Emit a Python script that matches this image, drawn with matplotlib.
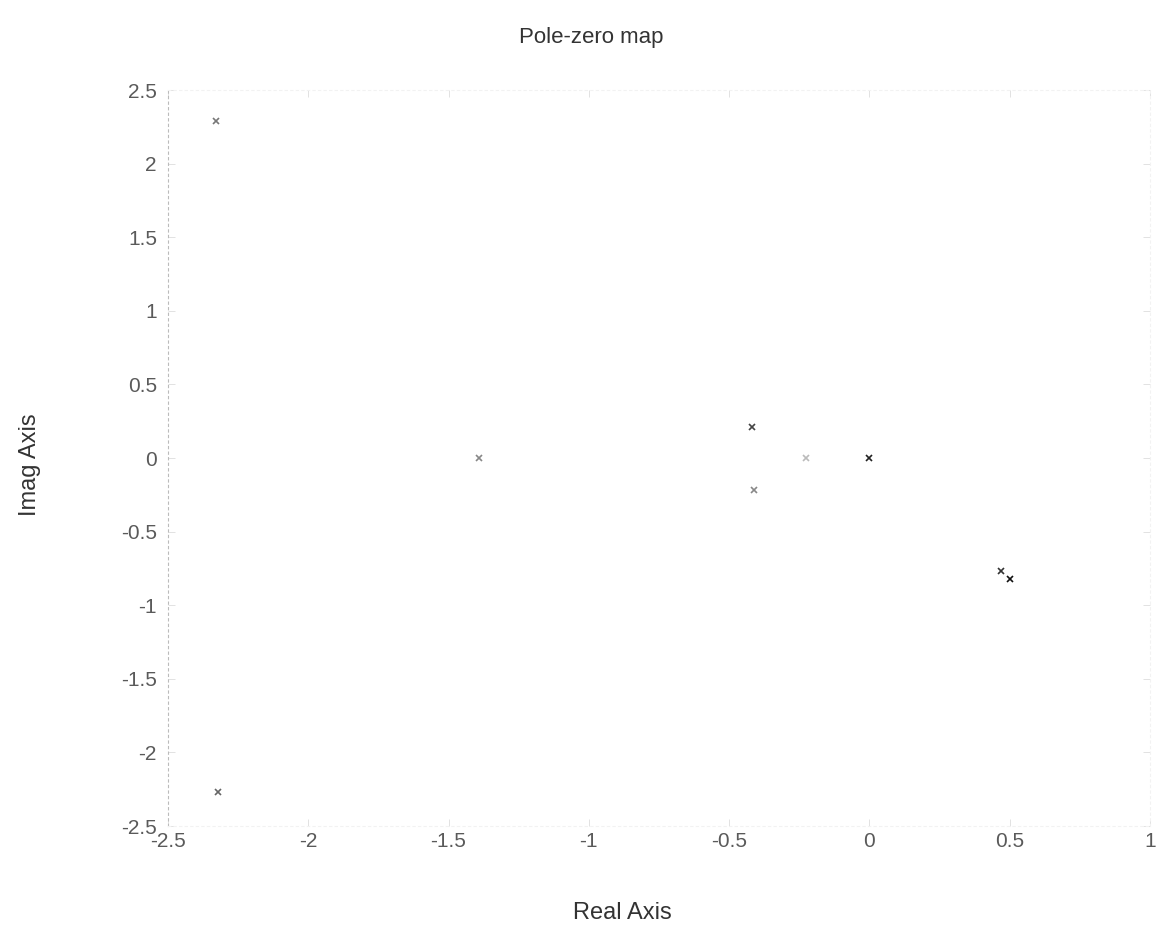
#!/usr/bin/env python3
"""Pole-zero map, redrawn from a faded scan."""

import matplotlib
import numpy as np

matplotlib.use("Agg")
import matplotlib.pyplot as plt

# pole locations (real, imag)
pole_re = [-2.33, -2.32, -1.39, -0.42, -0.41, -0.225, 0.0, 0.47, 0.50]
pole_im = [2.29, -2.27, 0.0, 0.21, -0.22, 0.0, 0.0, -0.77, -0.82]
# how dark each mark came out in the scan
pole_shade = ["#777777", "#666666", "#888888", "#444444", "#888888", "#bbbbbb", "#222222", "#333333", "#111111"]

x_ticks = [-2.5, -2, -1.5, -1, -0.5, 0, 0.5, 1]
y_ticks = [-2.5, -2, -1.5, -1, -0.5, 0, 0.5, 1, 1.5, 2, 2.5]


def fmt(v):
    return f"{v:g}"


def main() -> None:
    plt.rcParams["font.family"] = ["Liberation Sans", "DejaVu Sans"]
    plt.rcParams["axes.unicode_minus"] = False

    fig = plt.figure(figsize=(11.61, 9.38), dpi=100)
    ax = fig.add_axes([0.1447, 0.1194, 0.8458, 0.7846])

    for re, im, c in zip(pole_re, pole_im, pole_shade):
        ax.plot(re, im, marker="x", markersize=5, markeredgewidth=1.2,
                color=c, linestyle="none")

    ax.set_xlim(-2.5, 1)
    ax.set_ylim(-2.5, 2.5)
    ax.set_xticks(x_ticks)
    ax.set_xticklabels([fmt(v) for v in x_ticks])
    ax.set_yticks(y_ticks)
    ax.set_yticklabels([fmt(v) for v in y_ticks])
    ax.tick_params(direction="in", length=5, width=0.6, color="#dddddd",
                   labelsize=15, labelcolor="#5a5a5a", top=True, right=True)
    ax.tick_params(axis="x", pad=4)
    ax.tick_params(axis="y", pad=8)

    for side, sp in ax.spines.items():
        sp.set_linestyle((0, (2, 3)))
        sp.set_linewidth(0.8)
        sp.set_color("#bbbbbb" if side == "left" else "#f2f2f2")

    fig.text(591 / 1161, 1 - 38 / 938, "Pole-zero map", ha="center", va="center",
             fontsize=16, color="#333333")
    fig.text(622 / 1161, 1 - 913 / 938, "Real Axis", ha="center", va="center",
             fontsize=17, color="#333333")
    fig.text(30 / 1161, 1 - 465 / 938, "Imag Axis", ha="center", va="center",
             rotation=90, fontsize=17, color="#333333")

    fig.savefig("out.png", dpi=100)
    plt.close(fig)


if __name__ == "__main__":
    main()
